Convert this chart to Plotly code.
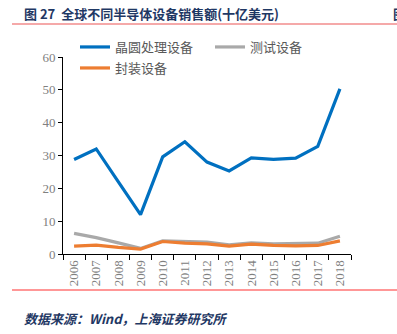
import plotly.graph_objects as go

years = ["2006","2007","2008","2009","2010","2011","2012","2013","2014","2015","2016","2017","2018"]
wafer = [28.8, 32.0, 22.0, 12.0, 29.6, 34.2, 28.0, 25.3, 29.3, 28.8, 29.2, 32.8, 50.3]
test = [6.3, 5.0, 3.4, 1.7, 4.0, 3.8, 3.6, 2.8, 3.4, 3.1, 3.1, 3.3, 5.4]
pack = [2.4, 2.7, 2.0, 1.5, 3.8, 3.3, 3.1, 2.4, 3.0, 2.6, 2.5, 2.6, 4.0]
yticks = [0, 10, 20, 30, 40, 50, 60]

W, H = 397, 334
fig = go.Figure()
fig.add_trace(go.Scatter(x=years, y=wafer, mode="lines", name="晶圆处理设备",
                         line=dict(color="#0070C0", width=3.2), legend="legend"))
fig.add_trace(go.Scatter(x=years, y=test, mode="lines", name="测试设备",
                         line=dict(color="#A9A9A9", width=3.2), legend="legend3"))
fig.add_trace(go.Scatter(x=years, y=pack, mode="lines", name="封装设备",
                         line=dict(color="#ED7D31", width=3.2), legend="legend2"))

tickfont = dict(family="Liberation Serif", size=13, color="#808080")
legfont = dict(family="Noto Sans CJK SC", size=13, color="#595959")

def leg(x, y):
    return dict(orientation="h", xref="container", yref="container",
                x=x/W, y=1-y/H, xanchor="left", yanchor="middle",
                font=legfont, bgcolor="rgba(0,0,0,0)", borderwidth=0)

fig.update_layout(
    width=W, height=H,
    margin=dict(l=63, r=46, t=57, b=80, autoexpand=False),
    paper_bgcolor="white", plot_bgcolor="white",
    xaxis=dict(type="category", range=[-0.5, len(years) - 0.5],
               tickson="boundaries", ticks="outside", ticklen=5,
               tickcolor="#000000", showline=True, linecolor="#000000", linewidth=1,
               showgrid=False, tickangle=-90, tickfont=tickfont, zeroline=False,
               automargin=False),
    yaxis=dict(range=[0, 60], tickvals=yticks, ticks="outside", ticklen=4,
               tickcolor="#000000", showline=True, linecolor="#000000", linewidth=1,
               showgrid=False, tickfont=tickfont, zeroline=False, automargin=False),
    legend=leg(75, 47),
    legend3=leg(210, 47),
    legend2=leg(75, 68),
    showlegend=True,
)

fig.add_shape(type="line", xref="paper", yref="paper",
              x0=-51/288, x1=(397-63)/288, y0=1+33/197, y1=1+33/197,
              line=dict(color="#F28C8C", width=1.5))
fig.add_shape(type="line", xref="paper", yref="paper",
              x0=-51/288, x1=(397-63)/288, y0=-(290-254)/197, y1=-(290-254)/197,
              line=dict(color="#FF3030", width=1.2))

fig.add_annotation(text="<b>图 27  全球不同半导体设备销售额(十亿美元)</b>",
                   xref="paper", yref="paper", x=-41/288, y=1+(57-13)/197,
                   xanchor="left", yanchor="middle", showarrow=False,
                   font=dict(family="Noto Sans CJK SC", size=13, color="#1F3864"))
fig.add_annotation(text="<b>图</b>",
                   xref="paper", yref="paper", x=(391-63)/288, y=1+(57-13)/197,
                   xanchor="left", yanchor="middle", showarrow=False,
                   font=dict(family="Noto Sans CJK SC", size=13, color="#1F3864"))
fig.add_annotation(text="<b><i>数据来源：Wind，上海证券研究所</i></b>",
                   xref="paper", yref="paper", x=-41/288, y=-(318-254)/197,
                   xanchor="left", yanchor="middle", showarrow=False,
                   font=dict(family="Noto Sans CJK SC", size=13, color="#1F3864"))

fig.write_html("out.html")
